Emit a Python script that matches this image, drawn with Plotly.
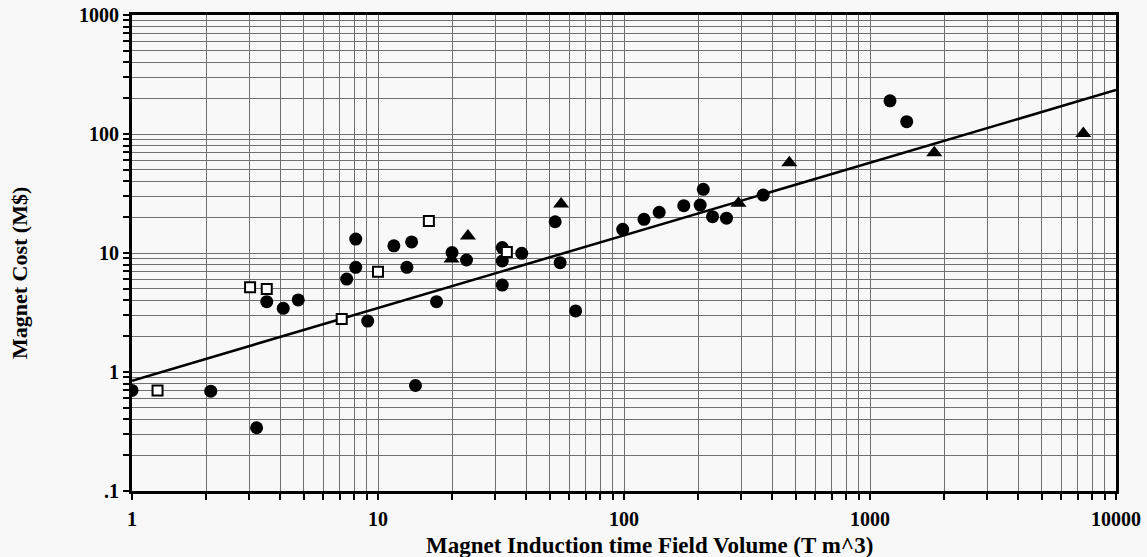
import plotly.graph_objects as go

# Circles (filled)
circle_x = [1.0, 2.09, 3.21, 3.53, 4.12, 4.74, 7.46, 8.12, 8.12, 9.08, 11.6, 13.7, 13.1, 14.2,
            17.3, 20.0, 22.9, 32.0, 32.0, 32.0, 38.4, 52.5, 55.0, 63.6, 98.8, 120.6, 139, 175,
            204, 210, 229, 261, 368, 1206, 1410]
circle_y = [0.70, 0.69, 0.34, 3.9, 3.43, 4.03, 6.04, 13.1, 7.58, 2.68, 11.5, 12.4, 7.58, 0.77,
            3.9, 10.1, 8.73, 11.1, 8.57, 5.38, 9.94, 18.3, 8.29, 3.26, 15.8, 19.2, 22.0, 25.0,
            25.3, 34.3, 20.2, 19.6, 30.7, 190, 127]

# Open squares
square_x = [1.27, 3.02, 3.53, 7.12, 10.0, 16.1, 33.4]
square_y = [0.70, 5.15, 4.98, 2.79, 6.97, 18.6, 10.2]

# Filled triangles
tri_x = [19.9, 23.2, 55.5, 292, 470, 1825, 7365]
tri_y = [8.9, 13.9, 25.8, 26.2, 57.4, 69.7, 101]

# Fit line
fit_x = [1, 10000]
fit_y = [0.845, 234]

x_tickvals = [1, 10, 100, 1000, 10000]
x_ticktext = ["1", "10", "100", "1000", "10000"]
y_tickvals = [0.1, 1, 10, 100, 1000]
y_ticktext = [".1", "1", "10", "100", "1000"]
minor_mult = [2, 3, 4, 5, 6, 7, 8, 9]

x_title = "Magnet Induction time Field Volume (T m^3)"
y_title = "Magnet Cost (M$)"

x_minor = [m * d for d in x_tickvals[:-1] for m in minor_mult]
y_minor = [m * d for d in y_tickvals[:-1] for m in minor_mult]

fig = go.Figure()
fig.add_trace(go.Scatter(x=fit_x, y=fit_y, mode="lines",
                         line=dict(color="black", width=2.5), showlegend=False))
fig.add_trace(go.Scatter(x=circle_x, y=circle_y, mode="markers",
                         marker=dict(symbol="circle", size=13, color="black"), showlegend=False))
fig.add_trace(go.Scatter(x=square_x, y=square_y, mode="markers",
                         marker=dict(symbol="square", size=10, color="white",
                                     line=dict(color="black", width=2)), showlegend=False))
fig.add_trace(go.Scatter(x=tri_x, y=tri_y, mode="markers",
                         marker=dict(symbol="triangle-up", size=14, color="black"), showlegend=False))

font_main = "Liberation Serif, Times New Roman, serif"
grid = "#707070"

common = dict(type="log", tickmode="array",
              showline=True, linecolor="black", linewidth=3, mirror=True,
              ticks="outside", ticklen=6, tickwidth=2, tickcolor="black",
              automargin=False, ticklabeloverflow="allow",
              showgrid=True, gridcolor=grid, gridwidth=1.3,
              tickfont=dict(family=font_main, size=20, color="black", weight="bold"),
              zeroline=False)

fig.update_xaxes(range=[0, 4], tickvals=x_tickvals, ticktext=x_ticktext,
                 ticklabelstandoff=2,
                 minor=dict(tickmode="array", tickvals=x_minor, ticks="outside", ticklen=6,
                            tickwidth=2, tickcolor="black",
                            showgrid=True, gridcolor=grid, gridwidth=1.3),
                 **common)
fig.update_yaxes(range=[-1, 3], tickvals=y_tickvals, ticktext=y_ticktext,
                 ticklabelstandoff=0,
                 minor=dict(tickmode="array", tickvals=y_minor, ticks="outside", ticklen=6,
                            tickwidth=2, tickcolor="black",
                            showgrid=True, gridcolor=grid, gridwidth=1.3),
                 **common)

fig.add_annotation(text="<b>" + x_title + "</b>", xref="paper", yref="paper",
                   x=0.526, y=0, xanchor="center", yanchor="middle", yshift=-54,
                   showarrow=False, font=dict(family=font_main, size=23, color="black"))
fig.add_annotation(text="<b>" + y_title + "</b>", xref="paper", yref="paper",
                   x=0, y=0.458, xanchor="center", yanchor="middle", xshift=-112,
                   textangle=-90, showarrow=False,
                   font=dict(family=font_main, size=22, color="black"))

fig.update_layout(width=1147, height=557,
                  margin=dict(l=132, r=31, t=15, b=66),
                  paper_bgcolor="#f8f8f8", plot_bgcolor="#f8f8f8")

fig.write_html("out.html", config={"displayModeBar": False},
               post_script="document.body.style.margin='0';")
